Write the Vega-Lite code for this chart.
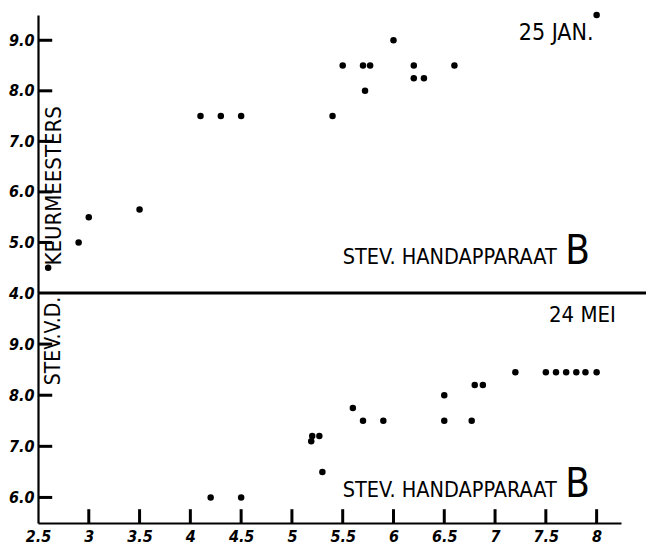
{
  "$schema": "https://vega.github.io/schema/vega-lite/v6.json",
  "background": "white",
  "padding": {"left": 8, "top": 11, "right": 0, "bottom": 5},
  "spacing": 0,
  "bounds": "flush",
  "config": {
    "view": {"stroke": null},
    "font": "DejaVu Sans Condensed",
    "axis": {
      "domainColor": "black",
      "domainWidth": 2.2,
      "ticks": false,
      "grid": false,
      "labelFont": "DejaVu Sans Condensed",
      "labelFontStyle": "italic",
      "labelFontWeight": "bold",
      "labelFontSize": 16,
      "labelColor": "black",
      "labelPadding": 4,
      "labelFlush": false,
      "title": null
    }
  },
  "datasets": {
    "jan": [
      {"x": 2.6, "y": 4.5}, {"x": 2.9, "y": 5.0}, {"x": 3.0, "y": 5.5}, {"x": 3.5, "y": 5.65},
      {"x": 4.1, "y": 7.5}, {"x": 4.3, "y": 7.5}, {"x": 4.5, "y": 7.5}, {"x": 5.4, "y": 7.5},
      {"x": 5.5, "y": 8.5}, {"x": 5.7, "y": 8.5}, {"x": 5.77, "y": 8.5}, {"x": 5.72, "y": 8.0},
      {"x": 6.0, "y": 9.0}, {"x": 6.2, "y": 8.5}, {"x": 6.2, "y": 8.25}, {"x": 6.3, "y": 8.25},
      {"x": 6.6, "y": 8.5}, {"x": 8.0, "y": 9.5}
    ],
    "mei": [
      {"x": 4.2, "y": 6.0}, {"x": 4.5, "y": 6.0}, {"x": 5.19, "y": 7.1}, {"x": 5.2, "y": 7.2},
      {"x": 5.27, "y": 7.2}, {"x": 5.3, "y": 6.5}, {"x": 5.6, "y": 7.75}, {"x": 5.7, "y": 7.5},
      {"x": 5.9, "y": 7.5}, {"x": 6.5, "y": 8.0}, {"x": 6.5, "y": 7.5}, {"x": 6.77, "y": 7.5},
      {"x": 6.8, "y": 8.2}, {"x": 6.88, "y": 8.2}, {"x": 7.2, "y": 8.45}, {"x": 7.5, "y": 8.45},
      {"x": 7.6, "y": 8.45}, {"x": 7.7, "y": 8.45}, {"x": 7.8, "y": 8.45}, {"x": 7.89, "y": 8.45},
      {"x": 8.0, "y": 8.45}
    ],
    "ytop": [{"t": 5}, {"t": 6}, {"t": 7}, {"t": 8}, {"t": 9}],
    "ybot": [{"t": 6}, {"t": 7}, {"t": 8}, {"t": 9}],
    "xbot": [{"t": 3}, {"t": 3.5}, {"t": 4}, {"t": 4.5}, {"t": 5}, {"t": 5.5}, {"t": 6}, {"t": 6.5}, {"t": 7}, {"t": 7.5}, {"t": 8}]
  },
  "vconcat": [
    {
      "width": 583,
      "height": 278,
      "layer": [
        {
          "data": {"name": "jan"},
          "mark": {"type": "circle", "size": 42, "color": "black", "opacity": 1},
          "encoding": {
            "x": {"field": "x", "type": "quantitative", "scale": {"domain": [2.5, 8.24], "nice": false, "zero": false}, "axis": null},
            "y": {"field": "y", "type": "quantitative", "scale": {"domain": [4, 9.5], "nice": false, "zero": false}, "axis": {"values": [4, 5, 6, 7, 8, 9], "format": ".1f"}}
          }
        },
        {
          "data": {"name": "ytop"},
          "mark": {"type": "rule", "strokeWidth": 3, "color": "black", "clip": false},
          "encoding": {"y": {"field": "t", "type": "quantitative"}, "x": {"datum": 2.5, "type": "quantitative"}, "x2": {"datum": 2.64}}
        },
        {
          "data": {"values": [{}]},
          "mark": {"type": "rule", "strokeWidth": 3, "color": "black", "clip": false},
          "encoding": {"x": {"datum": 2.5, "type": "quantitative"}, "x2": {"datum": 8.5}, "y": {"datum": 4, "type": "quantitative"}}
        },
        {
          "data": {"values": [{}]},
          "mark": {"type": "text", "fontSize": 23, "align": "right", "baseline": "alphabetic", "color": "black"},
          "encoding": {"x": {"datum": 7.97, "type": "quantitative"}, "y": {"datum": 9.0, "type": "quantitative"}, "text": {"value": "25 JAN."}}
        },
        {
          "data": {"values": [{}]},
          "mark": {"type": "text", "fontSize": 21.5, "align": "left", "baseline": "alphabetic", "color": "black"},
          "encoding": {"x": {"datum": 5.5, "type": "quantitative"}, "y": {"datum": 4.57, "type": "quantitative"}, "text": {"value": "STEV. HANDAPPARAAT"}}
        },
        {
          "data": {"values": [{}]},
          "mark": {"type": "text", "fontSize": 40, "align": "left", "baseline": "alphabetic", "color": "black"},
          "encoding": {"x": {"datum": 7.69, "type": "quantitative"}, "y": {"datum": 4.57, "type": "quantitative"}, "text": {"value": "B"}}
        },
        {
          "data": {"values": [{}]},
          "mark": {"type": "text", "fontSize": 22, "angle": 270, "align": "center", "baseline": "middle", "color": "black"},
          "encoding": {"x": {"datum": 2.66, "type": "quantitative"}, "y": {"datum": 6.12, "type": "quantitative"}, "text": {"value": "KEURMEESTERS"}}
        }
      ]
    },
    {
      "width": 583,
      "height": 230,
      "layer": [
        {
          "data": {"name": "mei"},
          "mark": {"type": "circle", "size": 42, "color": "black", "opacity": 1},
          "encoding": {
            "x": {"field": "x", "type": "quantitative", "scale": {"domain": [2.5, 8.24], "nice": false, "zero": false}, "axis": {"values": [2.5, 3, 3.5, 4, 4.5, 5, 5.5, 6, 6.5, 7, 7.5, 8], "format": "~g", "labelPadding": 5}},
            "y": {"field": "y", "type": "quantitative", "scale": {"domain": [5.5, 10], "nice": false, "zero": false}, "axis": {"values": [6, 7, 8, 9], "format": ".1f"}}
          }
        },
        {
          "data": {"name": "ybot"},
          "mark": {"type": "rule", "strokeWidth": 3, "color": "black", "clip": false},
          "encoding": {"y": {"field": "t", "type": "quantitative"}, "x": {"datum": 2.5, "type": "quantitative"}, "x2": {"datum": 2.64}}
        },
        {
          "data": {"name": "xbot"},
          "mark": {"type": "rule", "strokeWidth": 3, "color": "black", "clip": false},
          "encoding": {"x": {"field": "t", "type": "quantitative"}, "y": {"datum": 5.5, "type": "quantitative"}, "y2": {"datum": 5.77}}
        },
        {
          "data": {"values": [{}]},
          "mark": {"type": "text", "fontSize": 22, "align": "right", "baseline": "alphabetic", "color": "black"},
          "encoding": {"x": {"datum": 8.19, "type": "quantitative"}, "y": {"datum": 9.43, "type": "quantitative"}, "text": {"value": "24 MEI"}}
        },
        {
          "data": {"values": [{}]},
          "mark": {"type": "text", "fontSize": 21.5, "align": "left", "baseline": "alphabetic", "color": "black"},
          "encoding": {"x": {"datum": 5.5, "type": "quantitative"}, "y": {"datum": 6.0, "type": "quantitative"}, "text": {"value": "STEV. HANDAPPARAAT"}}
        },
        {
          "data": {"values": [{}]},
          "mark": {"type": "text", "fontSize": 40, "align": "left", "baseline": "alphabetic", "color": "black"},
          "encoding": {"x": {"datum": 7.69, "type": "quantitative"}, "y": {"datum": 6.0, "type": "quantitative"}, "text": {"value": "B"}}
        },
        {
          "data": {"values": [{}]},
          "mark": {"type": "text", "fontSize": 21, "angle": 270, "align": "center", "baseline": "middle", "color": "black"},
          "encoding": {"x": {"datum": 2.66, "type": "quantitative"}, "y": {"datum": 9.06, "type": "quantitative"}, "text": {"value": "STEV.V.D."}}
        }
      ]
    }
  ]
}
